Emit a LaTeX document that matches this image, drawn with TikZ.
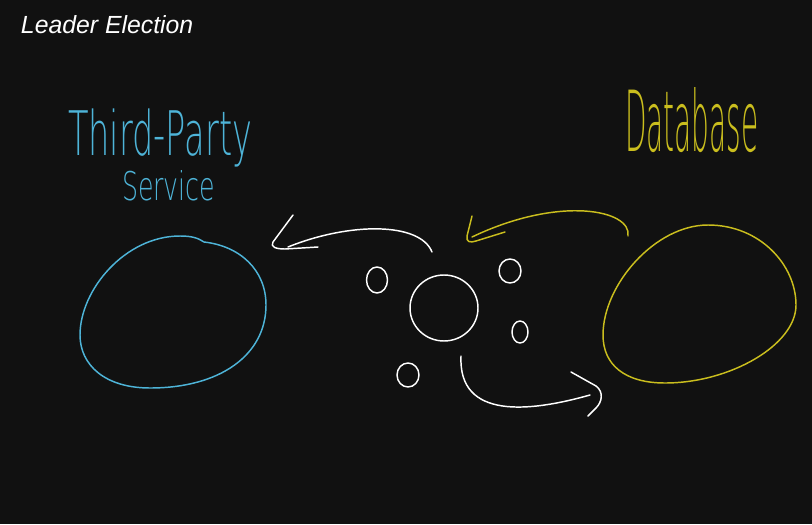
\documentclass[tikz,border=0pt]{standalone}
\usepackage{fontspec}
\setmainfont{Liberation Sans}
\newfontfamily\thinfont{DejaVu Sans ExtraLight}
\definecolor{bg}{RGB}{17,17,17}
\definecolor{cyanink}{RGB}{78,180,216}
\definecolor{yellowink}{RGB}{202,190,30}
\begin{document}
\begin{tikzpicture}[x=0.75pt,y=-0.75pt,
  ink/.style={line width=1.1pt,line cap=round,line join=round},
  hand/.style={inner sep=0pt,outer sep=0pt,anchor=base west}]
\fill[bg] (0,0) rectangle (812,524);
\useasboundingbox (0,0) rectangle (812,524);
% title
\node[hand,text=white,font=\fontsize{18.6}{21}\selectfont\itshape] (title) at (21,34) {Leader Election};
% labels
\node[hand,text=cyanink] (tp) at (68,156) {\resizebox{138pt}{35pt}{\thinfont Third-Party}};
\node[hand,text=cyanink] (sv) at (122,200) {\resizebox{70pt}{22.5pt}{\thinfont Service}};
\node[hand,text=yellowink] (db) at (625,151) {\resizebox{100pt}{48pt}{\thinfont Database}};
% third-party blob
\draw[ink,cyanink] (180,236) .. controls (192,236) and (198,238) .. (204,242)
  .. controls (240,246) and (266,270) .. (266,305)
  .. controls (266,355) and (220,388) .. (150,388)
  .. controls (105,388) and (80,365) .. (80,335)
  .. controls (80,290) and (125,236) .. (180,236) -- cycle;
% database blob
\draw[ink,yellowink] (708,225) .. controls (760,225) and (796,265) .. (796,305)
  .. controls (796,345) and (730,383) .. (665,383)
  .. controls (625,383) and (603,365) .. (603,335)
  .. controls (603,285) and (655,225) .. (708,225) -- cycle;
% leader and followers
\draw[ink,white] (444,308) ellipse [x radius=34,y radius=33];
\draw[ink,white] (377,280) ellipse [x radius=10.5,y radius=13];
\draw[ink,white] (510,271) ellipse [x radius=11,y radius=12];
\draw[ink,white] (520,332) ellipse [x radius=8,y radius=11];
\draw[ink,white] (408,375) ellipse [x radius=11,y radius=12];
% arrow to third-party
\draw[ink,white] (432,252) .. controls (420,222) and (350,222) .. (288,247);
\draw[ink,white] (293,215) -- (273,242) .. controls (270,247) and (276,249) .. (285,249) -- (318,247);
% arrow to leader from database
\draw[ink,yellowink] (628,236) .. controls (632,210) and (560,195) .. (472,237);
\draw[ink,yellowink] (472,216) -- (467,236) .. controls (466,242) and (470,243) .. (476,241) -- (505,232);
% arrow from leader to database
\draw[ink,white] (461,356) .. controls (458,420) and (530,412) .. (590,395);
\draw[ink,white] (571,372) -- (596,386) .. controls (604,392) and (602,402) .. (596,408) -- (588,416);
\end{tikzpicture}
\end{document}
